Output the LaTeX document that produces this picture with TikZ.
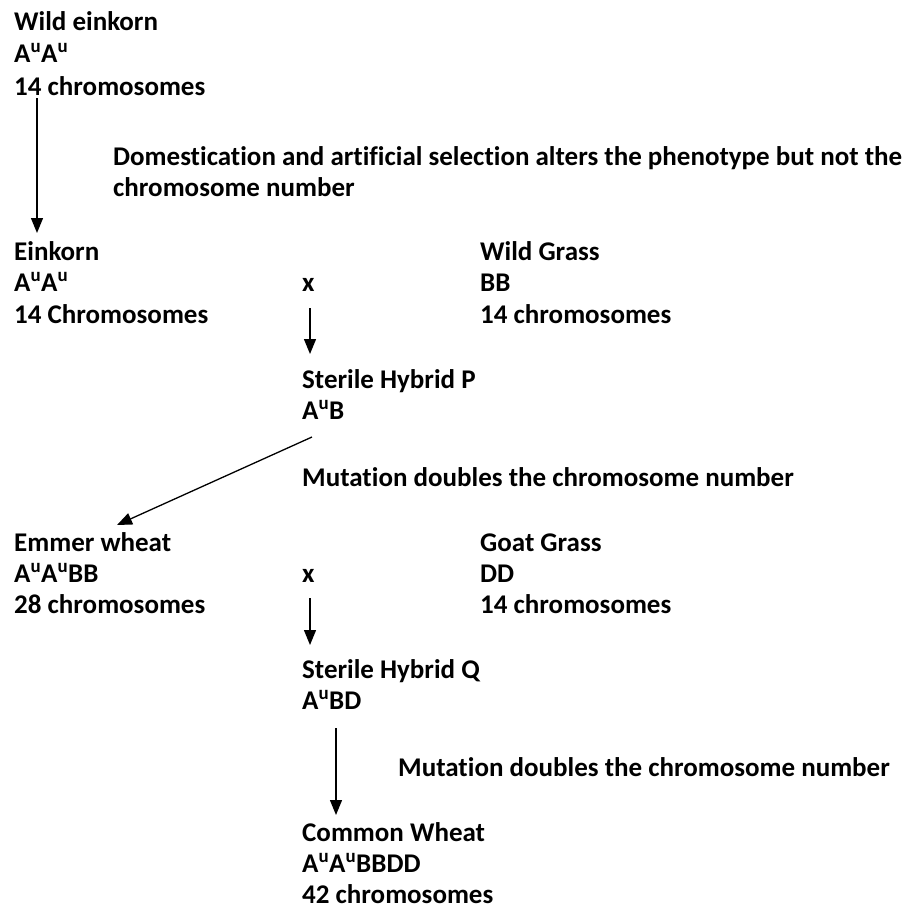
\documentclass[tikz,border=0pt]{standalone}
\usepackage{fontspec}
\setmainfont{Carlito}[Ligatures={NoCommon}]
\usetikzlibrary{arrows.meta}
\newcommand{\Au}{A\textsuperscript{u}}
\tikzset{
  txt/.style={anchor=base west, inner sep=0pt, font=\bfseries\fontsize{27}{31}\selectfont},
  arr/.style={line width=1.3pt, -{Triangle[width=12pt,length=15pt]}}
}
\begin{document}
\begin{tikzpicture}[x=1pt,y=-1pt]
\useasboundingbox (0,0) rectangle (903,911);
% block 1
\node[txt] (we1) at (14,30) {Wild einkorn};
\node[txt] (we2) at (14,62) {\Au\Au};
\node[txt] (we3) at (14,95) {14 chromosomes};
\node[txt] (dom1) at (113,165) {Domestication and artificial selection alters the phenotype but not the};
\node[txt] (dom2) at (113,196) {chromosome number};
% einkorn
\node[txt] (ek1) at (14,260) {Einkorn};
\node[txt] (ek2) at (14,291) {\Au\Au};
\node[txt] (ek3) at (14,323) {14 Chromosomes};
\node[txt] (x1) at (302,291) {x};
\node[txt] (wg1) at (480,260) {Wild Grass};
\node[txt] (wg2) at (480,291) {BB};
\node[txt] (wg3) at (480,323) {14 chromosomes};
% hybrid P
\node[txt] (hp1) at (302,388) {Sterile Hybrid P};
\node[txt] (hp2) at (302,419) {\Au B};
\node[txt] (mut1) at (302,486) {Mutation doubles the chromosome number};
% emmer
\node[txt] (em1) at (14,551) {Emmer wheat};
\node[txt] (em2) at (14,582) {\Au\Au BB};
\node[txt] (em3) at (14,613) {28 chromosomes};
\node[txt] (x2) at (302,582) {x};
\node[txt] (gg1) at (480,551) {Goat Grass};
\node[txt] (gg2) at (480,582) {DD};
\node[txt] (gg3) at (480,613) {14 chromosomes};
% hybrid Q
\node[txt] (hq1) at (302,678) {Sterile Hybrid Q};
\node[txt] (hq2) at (302,709) {\Au BD};
\node[txt] (mut2) at (398,776) {Mutation doubles the chromosome number};
% common wheat
\node[txt] (cw1) at (302,841) {Common Wheat};
\node[txt] (cw2) at (302,872) {\Au\Au BBDD};
\node[txt] (cw3) at (302,903) {42 chromosomes};
% arrow endpoints
\coordinate (a1s) at (37,98);
\coordinate (a1e) at (37,233);
\coordinate (a2s) at (310,308);
\coordinate (a2e) at (310,354);
\coordinate (a3s) at (312,437);
\coordinate (a3e) at (117,525);
\coordinate (a4s) at (310,598);
\coordinate (a4e) at (310,645);
\coordinate (a5s) at (336,728);
\coordinate (a5e) at (336,815);
\draw[arr] (a1s) -- (a1e);
\draw[arr] (a2s) -- (a2e);
\draw[arr] (a3s) -- (a3e);
\draw[arr] (a4s) -- (a4e);
\draw[arr] (a5s) -- (a5e);
\end{tikzpicture}
\end{document}
